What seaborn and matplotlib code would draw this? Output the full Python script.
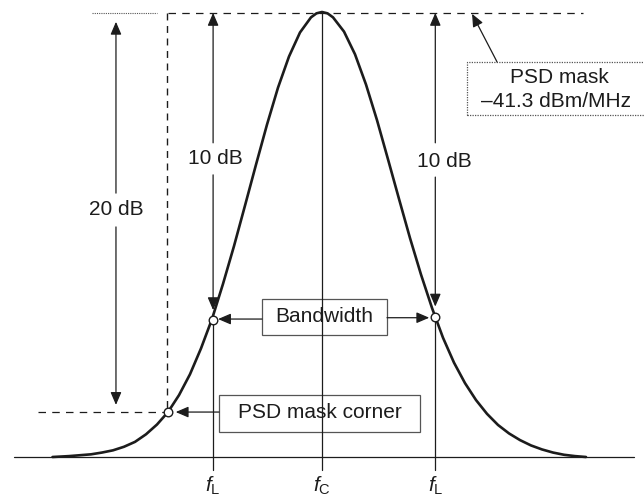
"""
plot.py
-------
Diagrama de máscara PSD: curva de densidad espectral con ancho de banda
a -10 dB y esquina de máscara a -20 dB.
"""

import matplotlib
matplotlib.use("Agg")
import matplotlib.pyplot as plt
from matplotlib.patches import Rectangle
import seaborn as sns

# ----------------------------------------------------------------------
# Datos (frecuencia normalizada, amplitud relativa)
# ----------------------------------------------------------------------
freq = [-2.45, -2.30, -2.20, -2.10, -2.00, -1.90, -1.80, -1.70, -1.60,
        -1.50, -1.40, -1.30, -1.20, -1.10, -1.00, -0.90, -0.80, -0.70,
        -0.60, -0.50, -0.40, -0.30, -0.20, -0.10, -0.05, 0.00, 0.05,
        0.10, 0.20, 0.30, 0.40, 0.50, 0.60, 0.70, 0.80, 0.90, 1.00,
        1.10, 1.20, 1.30, 1.40, 1.50, 1.60, 1.70, 1.80, 1.90, 2.00,
        2.10, 2.20, 2.30, 2.40]
amp = [0.000, 0.002, 0.004, 0.006, 0.010, 0.015, 0.023, 0.034, 0.051,
       0.073, 0.101, 0.139, 0.186, 0.244, 0.310, 0.389, 0.474, 0.565,
       0.657, 0.747, 0.830, 0.900, 0.954, 0.988, 0.997, 1.000, 0.997,
       0.988, 0.956, 0.905, 0.837, 0.757, 0.669, 0.580, 0.492, 0.410, 0.335,
       0.268, 0.212, 0.166, 0.128, 0.097, 0.072, 0.053, 0.038, 0.026, 0.017,
       0.010, 0.005, 0.002, 0.000]

# puntos marcados (esquina de máscara y bordes de ancho de banda)
punto_freq = [-1.40, -0.99, 1.03]
punto_amp = [0.101, 0.308, 0.315]

marcas_freq = [-0.99, 0.00, 1.03]
marcas_texto = [r"$f_{\mathrm{L}}$", r"$f_{\mathrm{C}}$", r"$f_{\mathrm{L}}$"]

nivel_mascara = 1.0
nivel_esquina = 0.101

tinta = "#1c1c1c"
gris = "#555555"
tam = 15

sns.set_style("white")
plt.rcParams["font.family"] = ["Liberation Sans", "DejaVu Sans"]
plt.rcParams["mathtext.fontset"] = "custom"
plt.rcParams["mathtext.it"] = "Liberation Sans:italic"
plt.rcParams["mathtext.rm"] = "Liberation Sans"

fig = plt.figure(figsize=(6.44, 4.98), dpi=100)
ax = fig.add_axes([0, 0, 1, 1])
ax.set_xlim(-322 / 110, 322 / 110)
ax.set_ylim(-41 / 445, 457 / 445)
ax.set_axis_off()

flecha = dict(arrowstyle="-|>,head_length=0.7,head_width=0.3", color=tinta,
              lw=0.9, shrinkA=0, shrinkB=0, mutation_scale=11)


def flecha_de(x0, y0, x1, y1):
    ax.annotate("", xy=(x1, y1), xytext=(x0, y0), arrowprops=flecha)


# eje de frecuencia y líneas verticales
ax.plot([-2.80, 2.84], [0, 0], color=tinta, lw=0.9)
ax.plot([0, 0], [nivel_mascara, -0.029], color=tinta, lw=0.9)
for x, y in zip(punto_freq[1:], punto_amp[1:]):
    ax.plot([x, x], [y, -0.029], color=tinta, lw=0.9)

# líneas de la máscara
ax.plot([-2.09, -1.50], [0.998, 0.998], color=gris, lw=0.8, ls=(0, (1, 1)))
ax.plot([-1.40, 2.373], [0.998, 0.998], color=tinta, lw=0.9, ls=(0, (6, 5)))
ax.plot([-1.41, -1.41], [0.998, nivel_esquina], color=tinta, lw=1.0, ls=(0, (5, 4)))
ax.plot([-2.58, -1.41], [nivel_esquina, nivel_esquina], color=tinta, lw=0.9, ls=(0, (6, 5)))

# curva espectral
sns.lineplot(x=freq, y=amp, ax=ax, color=tinta, linewidth=1.9, zorder=4)

# flechas de 20 dB y 10 dB
flecha_de(-1.873, 0.593, -1.873, 0.978)
flecha_de(-1.873, 0.517, -1.873, 0.117)
ax.text(-1.873, 0.556, "20 dB", ha="center", va="center", fontsize=tam, color=tinta)

flecha_de(-0.99, 0.706, -0.99, 0.998)
flecha_de(-0.99, 0.634, -0.99, 0.33)
ax.text(-0.97, 0.670, "10 dB", ha="center", va="center", fontsize=tam, color=tinta)

flecha_de(1.03, 0.706, 1.03, 0.998)
flecha_de(1.03, 0.629, 1.03, 0.338)
ax.text(1.11, 0.664, "10 dB", ha="center", va="center", fontsize=tam, color=tinta)

# puntos marcados
sns.scatterplot(x=punto_freq, y=punto_amp, ax=ax, s=38, marker="o",
                facecolor="white", edgecolor=tinta, linewidth=1.0, zorder=6)

# cajas de texto
ax.add_patch(Rectangle((-0.545, 0.274), 1.136, 0.081, fill=False,
                       edgecolor=gris, lw=0.9))
ax.text(0.018, 0.315, "Bandwidth", ha="center", va="center", fontsize=tam, color=tinta)
flecha_de(-0.545, 0.310, -0.945, 0.310)
flecha_de(0.591, 0.313, 0.975, 0.313)

ax.add_patch(Rectangle((-0.936, 0.056), 1.827, 0.083, fill=False,
                       edgecolor=gris, lw=0.9))
ax.text(-0.02, 0.099, "PSD mask corner", ha="center", va="center", fontsize=tam, color=tinta)
flecha_de(-0.936, nivel_esquina, -1.33, nivel_esquina)

ax.add_patch(Rectangle((1.318, 0.769), 1.7, 0.119, fill=False,
                       edgecolor=gris, lw=0.9, ls=(0, (1, 1))))
ax.text(2.155, 0.852, "PSD mask", ha="center", va="center", fontsize=tam, color=tinta)
ax.text(2.13, 0.800, "\u201341.3 dBm/MHz", ha="center", va="center", fontsize=tam, color=tinta)
flecha_de(1.591, 0.888, 1.364, 0.996)

# etiquetas de frecuencia
for x, t in zip(marcas_freq, marcas_texto):
    ax.text(x, -0.065, t, ha="center", va="center", fontsize=tam, color=tinta)

fig.savefig("out.png", dpi=100, facecolor="white")
